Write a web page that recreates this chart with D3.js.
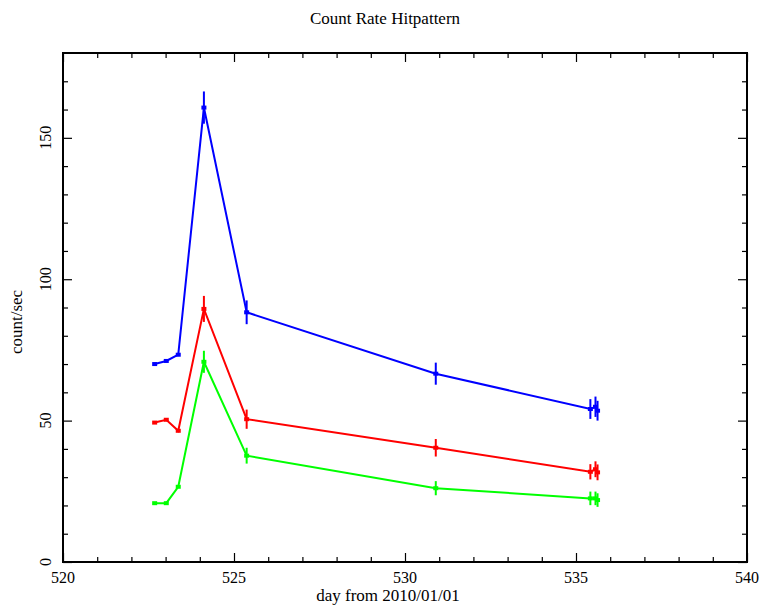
<!DOCTYPE html>
<html>
<head>
<meta charset="utf-8">
<script src="https://cdn.jsdelivr.net/npm/d3@7"></script>
<style>
  html, body { margin: 0; padding: 0; background: #fff; }
  svg { display: block; }
  text { font-family: "Liberation Serif", "Times New Roman", serif; fill: #000; }
</style>
</head>
<body>
<svg id="chart" width="760" height="606"></svg>
<script>
const days = [522.68, 523.02, 523.37, 524.12, 525.37, 530.90, 535.42, 535.57, 535.63];
const blueVals = [70.0, 71.1, 73.3, 160.7, 88.3, 66.6, 54.1, 54.9, 53.5];
const blueErr = [0.5, 0.5, 0.5, 5.7, 4.2, 3.9, 3.5, 3.6, 3.5];
const redVals = [49.3, 50.3, 46.4, 89.5, 50.5, 40.4, 31.9, 32.8, 31.7];
const redErr = [0.4, 0.4, 0.4, 4.6, 3.4, 3.1, 2.7, 2.8, 2.8];
const greenVals = [20.8, 20.8, 26.6, 70.8, 37.6, 26.1, 22.5, 22.5, 21.9];
const greenErr = [0.3, 0.3, 0.3, 3.9, 2.8, 2.5, 2.4, 2.4, 2.4];
const xTicks = [520, 525, 530, 535, 540];
const yTicks = [0, 50, 100, 150];
const titleText = "Count Rate Hitpattern";
const xLabel = "day from 2010/01/01";
const yLabel = "count/sec";

const series = [
  {name: "blue", color: "#0000ff", vals: blueVals, err: blueErr},
  {name: "red", color: "#ff0000", vals: redVals, err: redErr},
  {name: "green", color: "#00ff00", vals: greenVals, err: greenErr}
];

const svg = d3.select("#chart");
const L = 63, R = 747, T = 53, B = 562;
const x = d3.scaleLinear().domain([520, 540]).range([L, R]);
const y = d3.scaleLinear().domain([0, 180]).range([B, T]);

// title
svg.append("text").attr("x", 385).attr("y", 24).attr("text-anchor", "middle")
  .attr("font-size", 17).text(titleText);

const minorX = d3.range(520, 541, 1).filter(v => v % 5 !== 0);
const minorY = d3.range(0, 180, 10).filter(v => v % 50 !== 0);

function tickGroup(axisGen, transform) {
  const g = svg.append("g").attr("transform", transform).call(axisGen);
  g.select(".domain").remove();
  g.selectAll("line").attr("stroke", "#000").attr("stroke-width", 1.2);
  return g;
}
tickGroup(d3.axisTop(x).tickValues(xTicks).tickSize(9).tickFormat(""), `translate(0,${B})`);
tickGroup(d3.axisTop(x).tickValues(minorX).tickSize(5).tickFormat(""), `translate(0,${B})`);
tickGroup(d3.axisBottom(x).tickValues(xTicks).tickSize(9).tickFormat(""), `translate(0,${T})`);
tickGroup(d3.axisBottom(x).tickValues(minorX).tickSize(5).tickFormat(""), `translate(0,${T})`);
tickGroup(d3.axisRight(y).tickValues(yTicks).tickSize(9).tickFormat(""), `translate(${L},0)`);
tickGroup(d3.axisRight(y).tickValues(minorY).tickSize(5).tickFormat(""), `translate(${L},0)`);
tickGroup(d3.axisLeft(y).tickValues(yTicks).tickSize(9).tickFormat(""), `translate(${R},0)`);
tickGroup(d3.axisLeft(y).tickValues(minorY).tickSize(5).tickFormat(""), `translate(${R},0)`);

svg.append("rect").attr("x", L).attr("y", T).attr("width", R - L).attr("height", B - T)
  .attr("fill", "none").attr("stroke", "#000").attr("stroke-width", 2);

svg.append("g").selectAll("text").data(xTicks).join("text")
  .attr("x", d => x(d)).attr("y", B + 21).attr("text-anchor", "middle")
  .attr("font-size", 16).text(d => d);
svg.append("g").selectAll("text").data(yTicks).join("text")
  .attr("transform", d => `translate(${L - 12},${y(d)}) rotate(-90)`)
  .attr("text-anchor", "middle").attr("font-size", 16).text(d => d);

svg.append("text").attr("x", 388).attr("y", 601).attr("text-anchor", "middle")
  .attr("font-size", 17).text(xLabel);
svg.append("text").attr("transform", `translate(22,${322}) rotate(-90)`)
  .attr("text-anchor", "middle").attr("font-size", 17).text(yLabel);

const line = d3.line().x(d => x(d[0])).y(d => y(d[1]));
series.forEach(s => {
  const pts = days.map((d, i) => [d, s.vals[i], s.err[i]]);
  const g = svg.append("g");
  g.append("path").datum(pts).attr("d", line).attr("fill", "none")
    .attr("stroke", s.color).attr("stroke-width", 2).attr("stroke-linejoin", "miter");
  g.selectAll("line.err").data(pts).join("line").attr("class", "err")
    .attr("x1", d => x(d[0])).attr("x2", d => x(d[0]))
    .attr("y1", d => y(d[1] - d[2])).attr("y2", d => y(d[1] + d[2]))
    .attr("stroke", s.color).attr("stroke-width", 2);
  g.selectAll("rect.mk").data(pts).join("rect").attr("class", "mk")
    .attr("x", d => x(d[0]) - 2.5).attr("y", d => y(d[1]) - 2)
    .attr("width", 5).attr("height", 4).attr("fill", s.color);
});
</script>
</body>
</html>
